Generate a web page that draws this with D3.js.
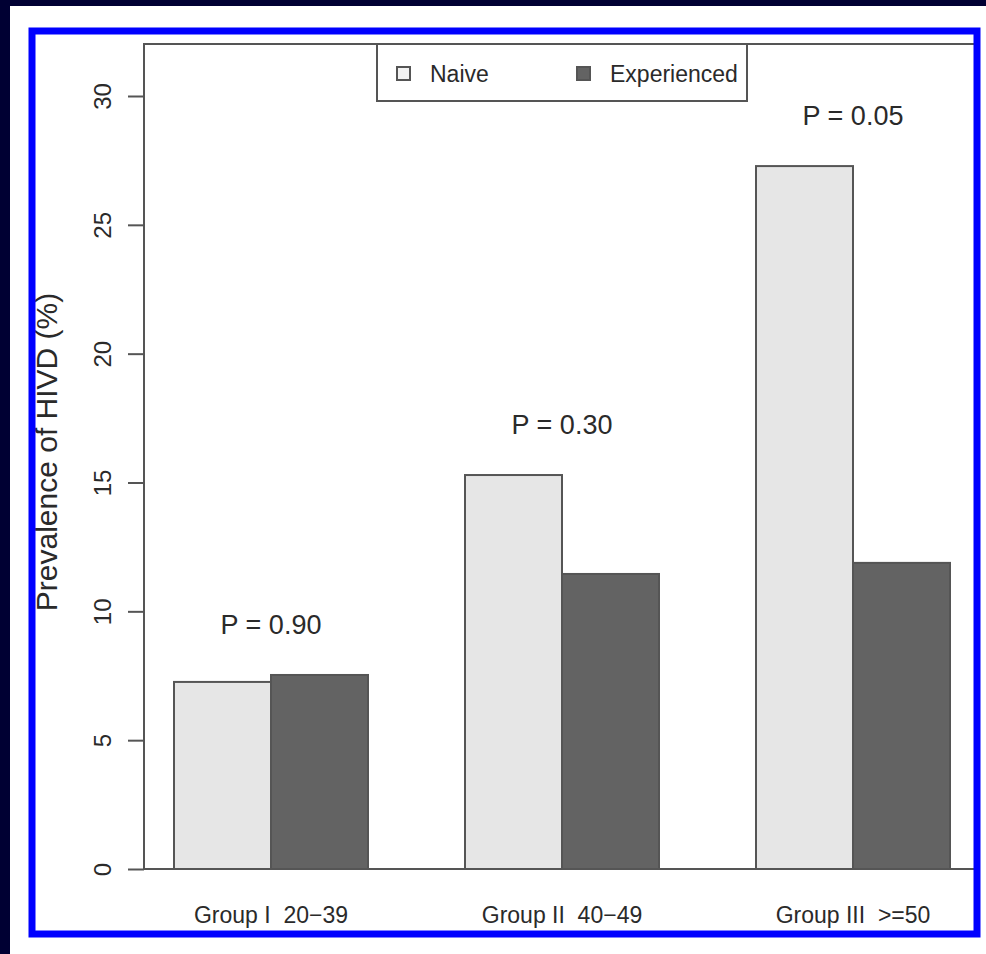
<!DOCTYPE html>
<html>
<head>
<meta charset="utf-8">
<script src="https://cdn.jsdelivr.net/npm/d3@7"></script>
<style>
  html, body { margin: 0; padding: 0; background: #000033; }
  svg { display: block; }
  text { font-family: "Liberation Sans", Arial, Helvetica, sans-serif; fill: #2a2a2a; }
</style>
</head>
<body>
<svg id="chart" width="986" height="954"></svg>
<script>
// Prevalence of HIVD by age group, treatment-naive vs experienced
const groups = ["Group I  20\u221239", "Group II  40\u221249", "Group III  >=50"];
const series = ["Naive", "Experienced"];
const naive = [7.26, 15.29, 27.28];
const experienced = [7.53, 11.45, 11.88];
const pValues = ["P = 0.90", "P = 0.30", "P = 0.05"];
const yTicks = [0, 5, 10, 15, 20, 25, 30];
const yTitle = "Prevalence of HIVD (%)";

const fills = { Naive: "#e6e6e6", Experienced: "#636363" };
const lineCol = "#555555";

const svg = d3.select("#chart");

// page panel
svg.append("rect").attr("x", 10).attr("y", 6).attr("width", 976).attr("height", 948).attr("fill", "#ffffff");

const plot = { left: 144, top: 44, right: 975, bottom: 869 };

const y = d3.scaleLinear().domain([0, 30]).range([869, 96]);
const x0 = d3.scaleBand().domain(groups).range([174, 950]).paddingInner(1 / 3).paddingOuter(0);
const x1 = d3.scaleBand().domain(series).range([0, x0.bandwidth()]).padding(0);

const rows = groups.map((g, i) => ({ group: g, Naive: naive[i], Experienced: experienced[i], p: pValues[i] }));

// bars
const gBars = svg.append("g");
rows.forEach(r => {
  series.forEach(s => {
    gBars.append("rect")
      .attr("x", x0(r.group) + x1(s))
      .attr("y", y(r[s]))
      .attr("width", x1.bandwidth())
      .attr("height", y(0) - y(r[s]))
      .attr("fill", fills[s])
      .attr("stroke", lineCol)
      .attr("stroke-width", 2);
  });
});

// p-value annotations above each group
svg.append("g").selectAll("text").data(rows).join("text")
  .attr("x", d => x0(d.group) + x0.bandwidth() / 2)
  .attr("y", d => y(Math.max(d.Naive, d.Experienced)) - 41)
  .attr("text-anchor", "middle")
  .attr("font-size", 27)
  .text(d => d.p);

// plot frame
svg.append("path")
  .attr("d", `M${plot.right},${plot.top}H${plot.left}V${plot.bottom}H${plot.right}`)
  .attr("fill", "none").attr("stroke", lineCol).attr("stroke-width", 2);

// y axis
const yAxis = svg.append("g").attr("transform", `translate(${plot.left},0)`)
  .call(d3.axisLeft(y).tickValues(yTicks).tickSize(16).tickFormat(d3.format("d")));
yAxis.select(".domain").remove();
yAxis.selectAll(".tick line").attr("stroke", lineCol).attr("stroke-width", 2);
yAxis.selectAll(".tick text")
  .attr("font-size", 24)
  .attr("fill", "#2a2a2a")
  .attr("text-anchor", "middle")
  .attr("dy", 0)
  .attr("x", 0)
  .attr("transform", `translate(${111 - plot.left},0) rotate(-90)`);

// x category labels
svg.append("g").selectAll("text").data(groups).join("text")
  .attr("x", d => x0(d) + x0.bandwidth() / 2)
  .attr("y", 923)
  .attr("text-anchor", "middle")
  .attr("font-size", 23)
  .style("white-space", "pre")
  .attr("xml:space", "preserve")
  .text(d => d);

// y title
svg.append("text")
  .attr("transform", "translate(57,452) rotate(-90)")
  .attr("text-anchor", "middle")
  .attr("font-size", 30)
  .text(yTitle);

// legend
const leg = svg.append("g");
leg.append("rect").attr("x", 377).attr("y", 44).attr("width", 370).attr("height", 57)
  .attr("fill", "#ffffff").attr("stroke", lineCol).attr("stroke-width", 2);
const legItems = [
  { name: "Naive", sx: 397, tx: 430 },
  { name: "Experienced", sx: 577, tx: 610 }
];
legItems.forEach(it => {
  leg.append("rect").attr("x", it.sx).attr("y", 67).attr("width", 13).attr("height", 13)
    .attr("fill", it.name === "Naive" ? "#f2f2f2" : fills.Experienced)
    .attr("stroke", lineCol).attr("stroke-width", 2);
  leg.append("text").attr("x", it.tx).attr("y", 82).attr("font-size", 23).text(it.name);
});

// blue frame
svg.append("rect").attr("x", 32).attr("y", 31).attr("width", 945).attr("height", 903)
  .attr("fill", "none").attr("stroke", "#0000ff").attr("stroke-width", 7);
</script>
</body>
</html>
